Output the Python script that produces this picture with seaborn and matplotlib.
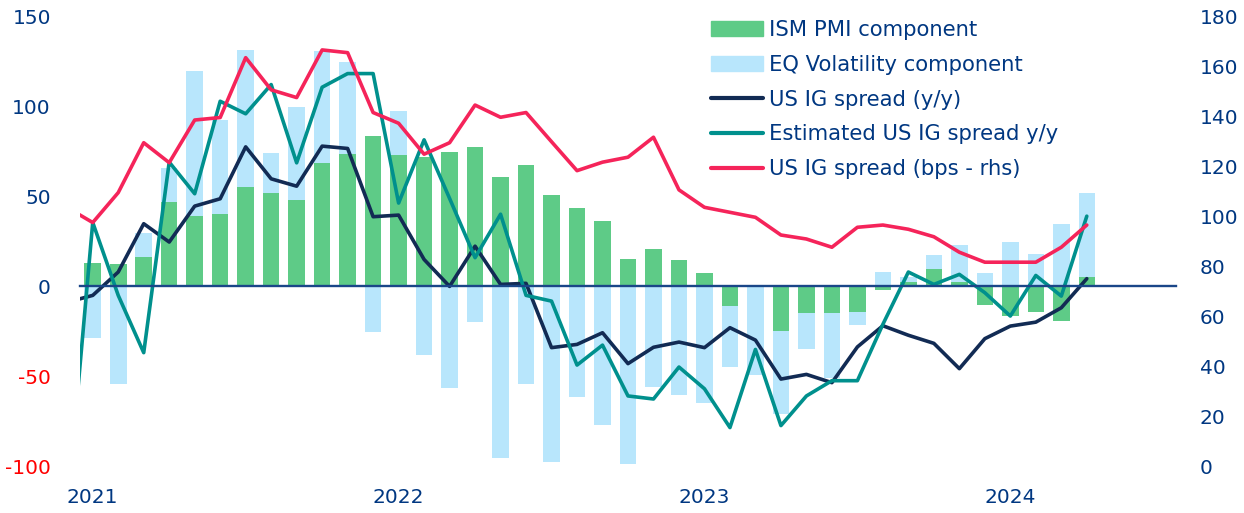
import numpy as np
import pandas as pd
import matplotlib
matplotlib.use("Agg")
import matplotlib.pyplot as plt
import seaborn as sns
from matplotlib.patches import Patch
from matplotlib.lines import Line2D

# monthly categories, Dec 2020 is only there so the lines enter from the left edge
months = pd.date_range("2020-12-01", "2024-04-01", freq="MS").strftime("%b %Y").tolist()
year_labels = ["2021", "2022", "2023", "2024"]
left_ticks = [-100, -50, 0, 50, 100, 150]
right_ticks = [0, 20, 40, 60, 80, 100, 120, 140, 160, 180]

ism_pmi = [np.nan,
           13.2, 12.6, 16.3, 46.9, 39.0, 40.2, 55.3, 51.8, 48.0, 68.8, 73.8, 83.9,
           73.0, 72.2, 75.1, 77.4, 60.8, 67.5, 51.0, 43.8, 36.2, 15.4, 21.1, 14.6,
           7.6, -11.1, 0.0, -24.9, -14.7, -15.0, -14.2, -2.0, 2.4, 9.5, 2.4, -10.6,
           -16.5, -14.3, -19.3, 5.4]
eq_vol = [np.nan,
          -28.9, -54.1, 29.5, 66.1, 119.8, 92.9, 131.9, 74.4, 99.8, 131.0, 124.9, -25.4,
          97.9, -38.2, -56.4, -19.7, -95.6, -54.5, -97.6, -61.6, -77.2, -98.7, -55.8, -60.3,
          -65.1, -44.9, -49.4, -70.9, -34.7, -51.0, -21.3, 8.0, 5.2, 17.4, 23.0, 7.6,
          24.7, 17.8, 34.5, 52.1]
ig_spread_yy = [-8.8,
                -5.0, 8.0, 34.9, 24.7, 44.7, 48.8, 77.7, 59.9, 55.8, 78.1, 76.8, 38.8,
                39.7, 15.0, 0.0, 22.4, 1.1, 1.7, -34.1, -32.3, -25.8, -43.0, -33.9, -31.0,
                -34.1, -23.0, -29.9, -51.6, -49.0, -53.6, -33.7, -21.9, -27.2, -31.7, -45.8, -29.1,
                -22.1, -19.9, -11.9, 4.3]
est_spread_yy = [-124.0,
                 35.6, -5.0, -36.9, 69.2, 51.6, 103.1, 96.1, 112.4, 68.8, 110.9, 118.5, 118.5,
                 46.4, 81.6, 49.0, 16.0, 40.2, -5.0, -8.2, -43.8, -32.7, -61.0, -62.7, -44.9,
                 -57.0, -78.6, -35.1, -77.5, -61.0, -52.5, -52.5, -21.1, 8.0, 1.1, 6.7, -3.5,
                 -16.5, 6.1, -5.4, 39.1]
ig_spread_bps = [103.6,
                 97.6, 109.6, 129.6, 121.6, 138.7, 139.7, 163.7, 150.8, 147.7, 166.8, 165.7, 141.7,
                 137.4, 125.0, 129.6, 144.7, 139.8, 141.7, 130.0, 118.4, 121.8, 123.8, 131.8, 110.7,
                 103.7, 101.7, 99.7, 92.6, 91.0, 87.7, 95.7, 96.6, 94.9, 91.9, 85.7, 81.7,
                 81.7, 81.7, 87.7, 96.6]

GREEN = "#5ecb87"
LIGHT_BLUE = "#b8e6fc"
NAVY = "#122b54"
TEAL = "#00908d"
RED = "#f5245a"
TEXT_BLUE = "#003781"
AXIS_BLUE = "#1a4688"

df = pd.DataFrame({"month": months, "ism": ism_pmi, "vol": eq_vol,
                   "yy": ig_spread_yy, "est": est_spread_yy, "bps": ig_spread_bps})
pos = np.arange(len(months))

sns.set_style("white")
plt.rcParams["font.family"] = ["DejaVu Sans"]

fig = plt.figure(figsize=(12.44, 5.13), dpi=100)
ax = fig.add_axes([80 / 1244, 47 / 513, 1096 / 1244, 449 / 513])

# volatility bars behind, PMI bars in front
sns.barplot(data=df, x="month", y="vol", order=months, color=LIGHT_BLUE,
            saturation=1, width=0.65, linewidth=0, errorbar=None, ax=ax)
sns.barplot(data=df, x="month", y="ism", order=months, color=GREEN,
            saturation=1, width=0.65, linewidth=0, errorbar=None, ax=ax)
sns.lineplot(x=pos, y=df["yy"], color=NAVY, lw=2.6, sort=False, ax=ax)
sns.lineplot(x=pos, y=df["est"], color=TEAL, lw=2.6, sort=False, ax=ax)

ax.set_xlim(0.5, 43.5)
ax.set_ylim(-100, 150)
ax.set_xlabel("")
ax.set_ylabel("")

ax2 = ax.twinx()
sns.lineplot(x=pos, y=df["bps"], color=RED, lw=2.6, sort=False, ax=ax2)
ax2.set_ylim(0, 180)
ax2.set_ylabel("")

for s in ["top", "left", "right"]:
    ax.spines[s].set_visible(False)
for s in ax2.spines.values():
    s.set_visible(False)
ax.spines["bottom"].set_position(("data", 0))
ax.spines["bottom"].set_color(AXIS_BLUE)
ax.spines["bottom"].set_linewidth(1.7)

# small year-boundary ticks on the zero line
ax.set_xticks([0.5, 12.5, 24.5, 36.5])
ax.set_xticklabels([])
ax.tick_params(axis="x", length=6, width=1.3, color=AXIS_BLUE, direction="out")

# year labels at the bottom
sec = ax.secondary_xaxis("bottom")
sec.set_xticks([1, 13, 25, 37], labels=year_labels)
sec.tick_params(length=0, pad=16, labelsize=14.5, labelcolor=TEXT_BLUE)
sec.spines["bottom"].set_visible(False)

ax.set_yticks(left_ticks, labels=[str(v) for v in left_ticks])
ax.tick_params(axis="y", length=0, pad=21, labelsize=14.5, labelcolor=TEXT_BLUE)
for lab, v in zip(ax.get_yticklabels(), left_ticks):
    if v < 0:
        lab.set_color("#ff0000")

ax2.set_yticks(right_ticks, labels=[str(v) for v in right_ticks])
ax2.tick_params(axis="y", length=0, pad=17, labelsize=14.5, labelcolor=TEXT_BLUE)

handles = [Patch(color=GREEN), Patch(color=LIGHT_BLUE),
           Line2D([], [], color=NAVY, lw=3), Line2D([], [], color=TEAL, lw=3),
           Line2D([], [], color=RED, lw=3)]
labels = ["ISM PMI component", "EQ Volatility component", "US IG spread (y/y)",
          "Estimated US IG spread y/y", "US IG spread (bps - rhs)"]
leg = ax2.legend(handles, labels, loc="upper left", bbox_to_anchor=(711 / 1244, 1 - 20 / 513),
                 bbox_transform=fig.transFigure, frameon=False, fontsize=15.2,
                 handlelength=2.45, handletextpad=0.3, labelspacing=0.7,
                 borderpad=0, borderaxespad=0)
for t in leg.get_texts():
    t.set_color(TEXT_BLUE)

fig.savefig("out.png", dpi=100)
